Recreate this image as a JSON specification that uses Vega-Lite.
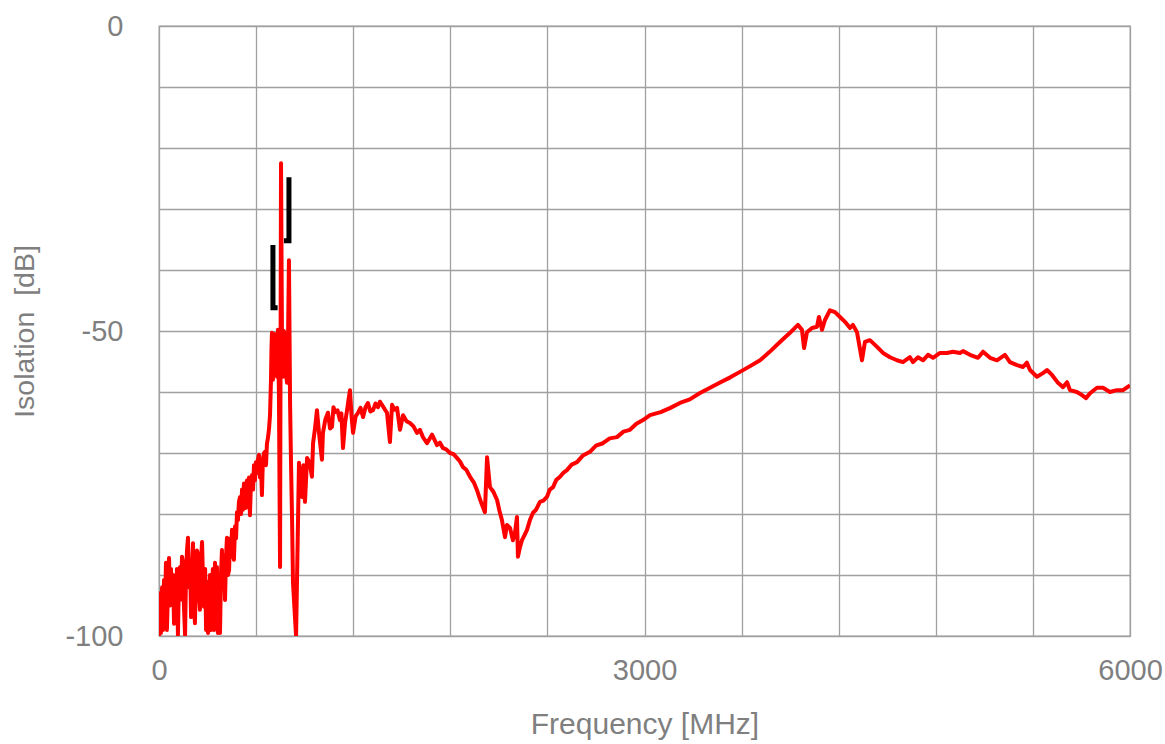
{
  "$schema": "https://vega.github.io/schema/vega-lite/v6.json",
  "width": 971,
  "height": 610,
  "autosize": {"type": "none"},
  "padding": {"left": 159, "top": 26, "right": 35, "bottom": 108},
  "background": "white",
  "config": {
    "font": "Liberation Sans",
    "view": {"stroke": "#a0a0a0", "strokeWidth": 1.3},
    "axis": {
      "grid": true,
      "gridColor": "#a0a0a0",
      "gridWidth": 1.3,
      "gridOpacity": 1,
      "domain": false,
      "ticks": false,
      "tickSize": 0,
      "labelFlush": false,
      "labelFont": "Liberation Sans",
      "labelFontSize": 29,
      "labelColor": "#7f7f7f",
      "titleFont": "Liberation Sans",
      "titleFontSize": 28.5,
      "titleFontWeight": "normal",
      "titleColor": "#7f7f7f"
    }
  },
  "datasets": {
    "isolation": [
      {"f": 0, "db": -100}, {"f": 6, "db": -93}, {"f": 12, "db": -99.5}, {"f": 19, "db": -92},
      {"f": 25, "db": -99}, {"f": 31, "db": -90.8}, {"f": 37, "db": -96}, {"f": 43, "db": -88},
      {"f": 49, "db": -99}, {"f": 56, "db": -92}, {"f": 62, "db": -87.2}, {"f": 68, "db": -95},
      {"f": 74, "db": -89}, {"f": 80, "db": -93.6}, {"f": 87, "db": -90}, {"f": 93, "db": -98},
      {"f": 99, "db": -91.3}, {"f": 105, "db": -95}, {"f": 111, "db": -89}, {"f": 117, "db": -99.8},
      {"f": 124, "db": -90}, {"f": 130, "db": -88.7}, {"f": 136, "db": -94}, {"f": 142, "db": -87},
      {"f": 148, "db": -87.9}, {"f": 154, "db": -95}, {"f": 161, "db": -99.8}, {"f": 167, "db": -90},
      {"f": 173, "db": -86}, {"f": 179, "db": -83.9}, {"f": 185, "db": -92}, {"f": 192, "db": -88},
      {"f": 198, "db": -96.9}, {"f": 204, "db": -89}, {"f": 210, "db": -84.8}, {"f": 216, "db": -93},
      {"f": 222, "db": -97.9}, {"f": 229, "db": -90}, {"f": 235, "db": -86}, {"f": 241, "db": -86.7},
      {"f": 247, "db": -93}, {"f": 253, "db": -95.7}, {"f": 259, "db": -88}, {"f": 266, "db": -84.6},
      {"f": 272, "db": -91}, {"f": 278, "db": -95.2}, {"f": 285, "db": -89}, {"f": 291, "db": -99},
      {"f": 297, "db": -91.1}, {"f": 303, "db": -99.5}, {"f": 309, "db": -94}, {"f": 315, "db": -90},
      {"f": 321, "db": -99}, {"f": 327, "db": -93.0}, {"f": 333, "db": -89}, {"f": 340, "db": -99},
      {"f": 346, "db": -88}, {"f": 352, "db": -94}, {"f": 358, "db": -88.7}, {"f": 364, "db": -99.5},
      {"f": 371, "db": -92}, {"f": 377, "db": -99.5}, {"f": 383, "db": -90}, {"f": 389, "db": -85.9},
      {"f": 395, "db": -91}, {"f": 402, "db": -88}, {"f": 408, "db": -94.1}, {"f": 414, "db": -87},
      {"f": 420, "db": -83.9}, {"f": 426, "db": -90}, {"f": 433, "db": -89.2}, {"f": 439, "db": -84},
      {"f": 445, "db": -87}, {"f": 451, "db": -82.6}, {"f": 457, "db": -85}, {"f": 463, "db": -87.5},
      {"f": 470, "db": -82}, {"f": 476, "db": -84}, {"f": 482, "db": -79.7}, {"f": 488, "db": -81},
      {"f": 494, "db": -78}, {"f": 501, "db": -77.2}, {"f": 507, "db": -80}, {"f": 513, "db": -76},
      {"f": 519, "db": -79.3}, {"f": 525, "db": -75}, {"f": 531, "db": -76.1}, {"f": 537, "db": -79},
      {"f": 543, "db": -74.5}, {"f": 549, "db": -77}, {"f": 556, "db": -74}, {"f": 562, "db": -80.2},
      {"f": 568, "db": -75}, {"f": 575, "db": -73.6}, {"f": 581, "db": -76}, {"f": 587, "db": -72},
      {"f": 593, "db": -74.5}, {"f": 599, "db": -71.5}, {"f": 606, "db": -73.3}, {"f": 612, "db": -71},
      {"f": 618, "db": -70.3}, {"f": 624, "db": -74}, {"f": 630, "db": -72}, {"f": 636, "db": -76.9},
      {"f": 642, "db": -71}, {"f": 649, "db": -70}, {"f": 655, "db": -69.8}, {"f": 661, "db": -72},
      {"f": 667, "db": -68.5}, {"f": 674, "db": -67.4}, {"f": 680, "db": -66}, {"f": 686, "db": -63.8},
      {"f": 692, "db": -58}, {"f": 695, "db": -53}, {"f": 698, "db": -50.3}, {"f": 701, "db": -56},
      {"f": 704, "db": -58.0}, {"f": 708, "db": -51}, {"f": 711, "db": -57}, {"f": 714, "db": -50.5},
      {"f": 717, "db": -51.0}, {"f": 720, "db": -57}, {"f": 723, "db": -51}, {"f": 726, "db": -56},
      {"f": 729, "db": -57.5}, {"f": 735, "db": -49.8}, {"f": 741, "db": -60},
      {"f": 748, "db": -88.7}, {"f": 754, "db": -22.5}, {"f": 760, "db": -52}, {"f": 766, "db": -57.5},
      {"f": 772, "db": -50}, {"f": 779, "db": -51.0}, {"f": 785, "db": -57},
      {"f": 791, "db": -58.5}, {"f": 797, "db": -52}, {"f": 803, "db": -38.4}, {"f": 810, "db": -62},
      {"f": 816, "db": -72}, {"f": 822, "db": -80.5}, {"f": 828, "db": -91.3},
      {"f": 847, "db": -100}, {"f": 865, "db": -71.6}, {"f": 874, "db": -74}, {"f": 884, "db": -77.2},
      {"f": 893, "db": -72}, {"f": 902, "db": -78.0}, {"f": 915, "db": -70.8}, {"f": 930, "db": -71.5},
      {"f": 945, "db": -73.9}, {"f": 952, "db": -68.4}, {"f": 964, "db": -66}, {"f": 976, "db": -63.0},
      {"f": 990, "db": -67}, {"f": 1007, "db": -71.1}, {"f": 1013, "db": -66.7}, {"f": 1028, "db": -64.5},
      {"f": 1044, "db": -63.4}, {"f": 1057, "db": -66}, {"f": 1069, "db": -65.7}, {"f": 1078, "db": -62.5},
      {"f": 1088, "db": -63.3}, {"f": 1103, "db": -63}, {"f": 1118, "db": -64.6}, {"f": 1127, "db": -63.5},
      {"f": 1137, "db": -69.2}, {"f": 1150, "db": -65}, {"f": 1162, "db": -63.0}, {"f": 1170, "db": -61.5},
      {"f": 1180, "db": -59.7}, {"f": 1190, "db": -64}, {"f": 1199, "db": -66.7}, {"f": 1215, "db": -64},
      {"f": 1230, "db": -63.4}, {"f": 1245, "db": -62.6}, {"f": 1261, "db": -64.1}, {"f": 1276, "db": -62.5},
      {"f": 1291, "db": -61.8}, {"f": 1306, "db": -63.2}, {"f": 1322, "db": -63.0}, {"f": 1338, "db": -61.9},
      {"f": 1353, "db": -62.5}, {"f": 1365, "db": -61.6}, {"f": 1378, "db": -62.1}, {"f": 1394, "db": -62.8},
      {"f": 1409, "db": -63.4}, {"f": 1427, "db": -68.2}, {"f": 1440, "db": -62.1}, {"f": 1455, "db": -62.9},
      {"f": 1471, "db": -62.6}, {"f": 1489, "db": -66.2}, {"f": 1508, "db": -63.8}, {"f": 1530, "db": -64.8},
      {"f": 1551, "db": -65.1}, {"f": 1572, "db": -65.6}, {"f": 1594, "db": -66.7}, {"f": 1612, "db": -66.2},
      {"f": 1631, "db": -67.4}, {"f": 1656, "db": -68.4}, {"f": 1687, "db": -67.0}, {"f": 1718, "db": -68.7},
      {"f": 1735, "db": -68.3}, {"f": 1755, "db": -69.2}, {"f": 1775, "db": -69.4}, {"f": 1798, "db": -70.0},
      {"f": 1820, "db": -70.2}, {"f": 1841, "db": -70.8}, {"f": 1860, "db": -71.4}, {"f": 1878, "db": -72.3},
      {"f": 1900, "db": -72.8}, {"f": 1922, "db": -73.9}, {"f": 1945, "db": -74.8}, {"f": 1965, "db": -76.1},
      {"f": 1980, "db": -77.3}, {"f": 1996, "db": -78.5}, {"f": 2014, "db": -79.7},
      {"f": 2027, "db": -70.7}, {"f": 2045, "db": -75.6}, {"f": 2065, "db": -76.3}, {"f": 2089, "db": -77.7},
      {"f": 2104, "db": -79.5}, {"f": 2119, "db": -81.0},
      {"f": 2138, "db": -83.8}, {"f": 2150, "db": -81.8}, {"f": 2169, "db": -82.3}, {"f": 2187, "db": -84.3},
      {"f": 2200, "db": -83}, {"f": 2212, "db": -80.5},
      {"f": 2218, "db": -87.0}, {"f": 2230, "db": -85.5}, {"f": 2243, "db": -84.3}, {"f": 2258, "db": -83.5},
      {"f": 2274, "db": -82.6}, {"f": 2292, "db": -81}, {"f": 2311, "db": -79.8}, {"f": 2330, "db": -79.3},
      {"f": 2354, "db": -78.0}, {"f": 2375, "db": -77.8}, {"f": 2397, "db": -77.2}, {"f": 2415, "db": -76}, {"f": 2435, "db": -75.6},
      {"f": 2455, "db": -74.4}, {"f": 2478, "db": -73.9},
      {"f": 2500, "db": -73.2}, {"f": 2521, "db": -72.8}, {"f": 2550, "db": -71.9}, {"f": 2583, "db": -71.5},
      {"f": 2620, "db": -70.4}, {"f": 2663, "db": -69.8}, {"f": 2700, "db": -68.8}, {"f": 2743, "db": -68.4},
      {"f": 2785, "db": -67.6}, {"f": 2830, "db": -67.4}, {"f": 2870, "db": -66.5}, {"f": 2910, "db": -66.2},
      {"f": 2950, "db": -65.2}, {"f": 2991, "db": -64.6}, {"f": 3034, "db": -63.8},
      {"f": 3100, "db": -63.3}, {"f": 3160, "db": -62.6}, {"f": 3219, "db": -61.8}, {"f": 3280, "db": -61.2},
      {"f": 3340, "db": -60.2}, {"f": 3405, "db": -59.3}, {"f": 3470, "db": -58.4}, {"f": 3530, "db": -57.6},
      {"f": 3590, "db": -56.7}, {"f": 3650, "db": -55.8}, {"f": 3714, "db": -54.8}, {"f": 3770, "db": -53.5},
      {"f": 3837, "db": -51.8}, {"f": 3899, "db": -50.3}, {"f": 3948, "db": -49.0}, {"f": 3973, "db": -49.8},
      {"f": 3986, "db": -52.8}, {"f": 4004, "db": -50.2}, {"f": 4035, "db": -49.5}, {"f": 4066, "db": -49.3},
      {"f": 4078, "db": -47.7}, {"f": 4097, "db": -49.8}, {"f": 4115, "db": -48.2}, {"f": 4146, "db": -46.6},
      {"f": 4177, "db": -46.9}, {"f": 4208, "db": -47.7}, {"f": 4239, "db": -48.5}, {"f": 4270, "db": -49.5},
      {"f": 4288, "db": -49.0}, {"f": 4313, "db": -50.2}, {"f": 4344, "db": -54.8}, {"f": 4362, "db": -51.8},
      {"f": 4393, "db": -51.5}, {"f": 4437, "db": -52.6}, {"f": 4474, "db": -53.6}, {"f": 4517, "db": -54.3},
      {"f": 4560, "db": -54.8}, {"f": 4597, "db": -55.1}, {"f": 4640, "db": -54.3}, {"f": 4659, "db": -55.1},
      {"f": 4690, "db": -54.3}, {"f": 4721, "db": -54.8}, {"f": 4752, "db": -53.9}, {"f": 4783, "db": -54.4},
      {"f": 4826, "db": -53.6}, {"f": 4869, "db": -53.6}, {"f": 4906, "db": -53.4}, {"f": 4949, "db": -53.6},
      {"f": 4968, "db": -53.3}, {"f": 5011, "db": -53.9}, {"f": 5061, "db": -54.4}, {"f": 5092, "db": -53.4},
      {"f": 5135, "db": -54.4}, {"f": 5178, "db": -54.8}, {"f": 5227, "db": -53.9}, {"f": 5258, "db": -55.1},
      {"f": 5302, "db": -55.6}, {"f": 5339, "db": -55.9}, {"f": 5363, "db": -55.2}, {"f": 5382, "db": -56.4},
      {"f": 5425, "db": -57.5}, {"f": 5462, "db": -56.9}, {"f": 5487, "db": -56.4}, {"f": 5518, "db": -57.2},
      {"f": 5555, "db": -58.5}, {"f": 5586, "db": -59.2}, {"f": 5611, "db": -58.4}, {"f": 5629, "db": -59.7},
      {"f": 5672, "db": -60.0}, {"f": 5703, "db": -60.5}, {"f": 5728, "db": -61.0}, {"f": 5753, "db": -60.2},
      {"f": 5796, "db": -59.3}, {"f": 5833, "db": -59.3}, {"f": 5876, "db": -60.0}, {"f": 5919, "db": -59.7},
      {"f": 5957, "db": -59.7}, {"f": 6000, "db": -58.9}
    ],
    "limit": [
      {"seg": "a", "i": 1, "f": 704, "db": -35.9},
      {"seg": "a", "i": 2, "f": 704, "db": -46.2},
      {"seg": "a", "i": 3, "f": 733, "db": -46.2},
      {"seg": "b", "i": 1, "f": 772, "db": -35.2},
      {"seg": "b", "i": 2, "f": 803, "db": -35.2},
      {"seg": "b", "i": 3, "f": 803, "db": -24.8}
    ]
  },
  "encoding": {
    "x": {
      "field": "f",
      "type": "quantitative",
      "title": "Frequency [MHz]",
      "scale": {"domain": [0, 6000], "nice": false, "zero": false},
      "axis": {
        "values": [0, 600, 1200, 1800, 2400, 3000, 3600, 4200, 4800, 5400, 6000],
        "labelExpr": "datum.value % 3000 === 0 ? '' + datum.value : ''",
        "labelPadding": 20,
        "titleFontSize": 30,
        "titlePadding": 24
      }
    },
    "y": {
      "field": "db",
      "type": "quantitative",
      "title": "Isolation\u00a0 [dB]",
      "scale": {"domain": [-100, 0], "nice": false},
      "axis": {
        "values": [-100, -90, -80, -70, -60, -50, -40, -30, -20, -10, 0],
        "labelExpr": "datum.value % 50 === 0 ? '' + datum.value : ''",
        "labelPadding": 36,
        "titlePadding": 25
      }
    }
  },
  "layer": [
    {
      "data": {"name": "limit"},
      "mark": {"type": "line", "color": "#000000", "strokeWidth": 5, "strokeJoin": "miter", "clip": true},
      "encoding": {
        "detail": {"field": "seg", "type": "nominal"},
        "order": {"field": "i", "type": "quantitative"}
      }
    },
    {
      "data": {"name": "isolation"},
      "mark": {"type": "line", "color": "#ff0000", "strokeWidth": 4, "strokeJoin": "round", "clip": true},
      "encoding": {}
    }
  ]
}
